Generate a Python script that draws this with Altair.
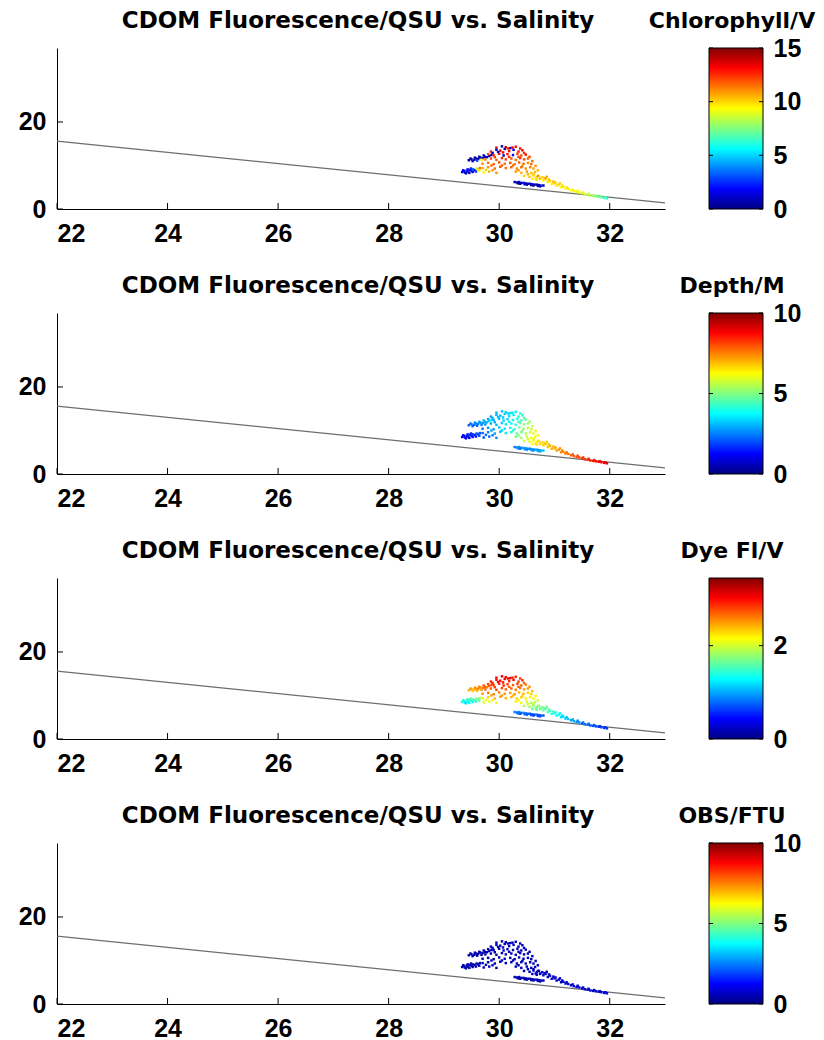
import altair as alt
import pandas as pd

# ---------------- data ----------------
salinity = [
    29.45, 29.50, 29.55, 29.58, 29.62, 29.66, 29.70, 29.74, 29.78, 29.82, 29.52, 29.60, 29.68, 29.86,
    29.33, 29.36, 29.38, 29.41, 29.44, 29.47, 29.50, 29.53, 29.56, 29.59, 29.62, 29.65, 29.40, 29.46, 29.52, 29.58,
    29.95, 30.05, 30.12, 30.20, 30.30,
    29.85, 29.95, 30.02, 30.10, 30.18, 30.26, 30.35, 30.42,
    29.80, 29.90, 30.00, 30.08, 30.15, 30.25, 30.33, 30.40, 30.48,
    29.75, 29.85, 29.95, 30.05, 30.12, 30.22, 30.30, 30.38, 30.45, 30.52,
    29.70, 29.80, 29.90, 30.00, 30.10, 30.20, 30.28, 30.36, 30.44, 30.52, 30.58,
    29.70, 29.80, 29.92, 30.02, 30.12, 30.22, 30.32, 30.40, 30.48, 30.56, 30.62,
    29.72, 29.82, 29.95, 30.30, 30.40, 30.50, 30.58, 30.65,
    30.45, 30.55, 30.62, 30.68, 30.72,
    30.60, 30.68, 30.74,
    30.28, 30.32, 30.36, 30.40, 30.44, 30.48, 30.52, 30.56, 30.60, 30.64, 30.68, 30.72, 30.76, 30.80, 30.38, 30.50, 30.62, 30.70,
    30.70, 30.74, 30.78, 30.80, 30.84, 30.88, 30.92, 30.95, 31.00, 31.04, 31.08, 31.12, 31.16, 31.20, 31.25, 31.30,
    31.35, 31.40, 31.45, 31.50, 31.55, 31.60, 31.65, 31.70, 31.75, 31.80, 31.85, 31.90, 31.95, 30.86, 30.98, 31.10,
    30.07, 30.16, 30.24, 30.38, 30.45, 30.55, 30.60, 30.66, 30.70, 29.88, 29.98, 29.92,
    30.18, 30.35, 30.05, 30.25, 30.42, 29.86, 29.76, 29.88, 30.35, 30.52, 30.62, 30.66,
    30.82, 30.90, 31.02, 31.14, 31.22, 31.33, 31.42, 31.52, 31.62, 31.72, 31.82, 31.92,
    29.35, 29.43, 29.49, 29.64, 29.48, 29.56, 29.64, 29.72, 30.34, 30.46, 30.58, 30.74,
]
cdom = [
    11.2, 11.4, 11.3, 11.6, 11.5, 11.8, 11.7, 12.0, 11.9, 12.2, 11.0, 11.1, 11.3, 12.4,
    8.5, 8.7, 8.4, 8.8, 8.6, 9.0, 8.8, 9.1, 8.9, 9.3, 9.1, 9.4, 8.2, 8.3, 8.5, 8.6,
    14.1, 14.4, 14.2, 14.0, 14.3,
    13.2, 13.6, 13.4, 13.8, 13.3, 13.6, 13.2, 13.5,
    12.6, 12.4, 12.7, 12.3, 12.6, 12.4, 12.7, 12.3, 12.5,
    11.4, 11.6, 11.3, 11.7, 11.4, 11.6, 11.3, 11.7, 11.4, 11.6,
    10.4, 10.6, 10.3, 10.7, 10.4, 10.6, 10.3, 10.7, 10.4, 10.6, 10.3,
    9.4, 9.6, 9.3, 9.7, 9.4, 9.6, 9.3, 9.6, 9.3, 9.6, 9.3,
    8.4, 8.6, 8.3, 8.6, 8.3, 8.6, 8.3, 8.5,
    7.6, 7.4, 7.7, 7.3, 7.6,
    6.9, 6.7, 6.9,
    6.2, 6.1, 6.2, 6.0, 6.0, 5.9, 5.8, 5.8, 5.7, 5.6, 5.6, 5.5, 5.4, 5.4, 5.8, 5.6, 5.4, 5.3,
    7.6, 7.0, 7.3, 6.6, 6.9, 6.2, 6.5, 5.8, 5.9, 5.4, 5.6, 5.0, 5.1, 4.7, 4.6, 4.3,
    4.1, 3.9, 3.8, 3.6, 3.4, 3.3, 3.1, 3.0, 2.9, 2.8, 2.7, 2.55, 2.45, 7.4, 6.3, 5.9,
    13.0, 13.9, 14.1, 13.9, 12.9, 12.0, 11.0, 9.9, 8.9, 12.9, 13.1, 11.9,
    12.0, 12.0, 10.0, 10.0, 9.9, 10.0, 9.0, 8.9, 8.9, 8.0, 8.0, 7.0,
    7.1, 6.8, 6.1, 5.4, 5.0, 4.5, 4.2, 3.8, 3.5, 3.2, 2.95, 2.7,
    8.9, 9.1, 9.3, 8.8, 11.6, 11.8, 12.0, 12.3, 5.9, 5.7, 5.5, 5.2,
]
chlorophyll = [
    0.5, 0.4, 0.6, 0.5, 0.7, 0.4, 0.8, 0.5, 1.5, 0.6, 1.0, 3.0, 9.5, 0.5,
    1.5, 2.0, 1.2, 2.5, 1.0, 2.2, 1.8, 3.5, 1.4, 8.5, 10.0, 11.5, 0.8, 1.1, 1.6, 2.8,
    13.5, 1.0, 13.8, 0.8, 13.0,
    12.5, 1.2, 13.5, 0.6, 13.0, 1.5, 12.8, 13.5,
    12.0, 12.5, 13.0, 0.8, 12.8, 2.0, 12.3, 12.0, 13.0,
    11.5, 12.0, 11.8, 12.5, 12.2, 12.0, 11.5, 12.5, 12.0, 11.8,
    11.0, 11.5, 11.8, 12.0, 11.5, 12.0, 11.2, 11.8, 11.5, 11.0, 11.5,
    10.5, 11.0, 11.5, 12.0, 11.5, 11.8, 11.2, 11.5, 11.0, 11.2, 10.8,
    9.0, 10.5, 11.0, 11.0, 10.5, 10.8, 10.2, 10.5,
    10.0, 10.2, 9.8, 10.0, 9.5,
    9.5, 9.8, 9.2,
    1.0, 0.6, 1.5, 0.5, 2.0, 0.7, 1.2, 0.5, 1.8, 0.6, 1.0, 0.5, 2.5, 0.8, 0.4, 0.6, 0.5, 0.7,
    11.0, 10.5, 10.0, 9.5, 10.2, 9.8, 10.0, 9.5, 10.2, 9.8, 10.0, 9.5, 9.8, 9.5, 9.8, 9.2,
    9.5, 9.0, 9.2, 8.8, 9.0, 8.5, 8.2, 8.0, 7.5, 7.2, 6.8, 6.5, 6.0, 10.8, 10.5, 10.0,
    13.2, 12.8, 13.5, 13.0, 12.5, 12.0, 11.5, 11.0, 10.5, 1.0, 0.7, 12.2,
    12.5, 12.0, 11.8, 11.5, 11.2, 11.5, 10.0, 11.0, 11.0, 10.5, 10.2, 9.8,
    10.5, 10.2, 10.0, 9.8, 9.6, 9.4, 9.2, 8.9, 8.6, 8.0, 7.3, 6.6,
    1.8, 2.0, 2.5, 9.5, 0.5, 0.6, 0.5, 0.8, 0.6, 1.0, 0.7, 0.9,
]
depth = [
    2.2, 2.4, 2.3, 2.6, 2.5, 2.8, 2.7, 3.0, 3.1, 3.3, 2.1, 2.2, 2.5, 3.4,
    1.3, 1.4, 1.2, 1.5, 1.3, 1.6, 1.5, 1.7, 1.6, 1.9, 1.8, 2.0, 1.1, 1.2, 1.4, 1.5,
    3.0, 3.2, 3.3, 3.5, 3.6,
    2.8, 3.0, 3.1, 3.3, 3.4, 3.6, 3.9, 4.2,
    2.8, 2.9, 3.1, 3.3, 3.4, 3.7, 4.0, 4.4, 4.7,
    2.6, 2.9, 3.0, 3.2, 3.5, 3.8, 4.2, 4.6, 5.0, 5.2,
    2.4, 2.7, 2.9, 3.2, 3.5, 3.9, 4.3, 4.8, 5.2, 5.5, 5.8,
    2.2, 2.5, 2.9, 3.2, 3.6, 4.0, 4.6, 5.0, 5.4, 5.8, 6.0,
    2.0, 2.3, 2.6, 4.8, 5.3, 5.7, 6.0, 6.2,
    5.8, 6.0, 6.2, 6.4, 6.5,
    6.3, 6.5, 6.6,
    2.6, 2.5, 2.7, 2.5, 2.8, 2.6, 2.7, 2.5, 2.8, 2.6, 2.9, 2.7, 3.0, 3.2, 2.4, 2.5, 2.6, 2.8,
    6.5, 6.6, 6.6, 6.7, 6.8, 6.9, 7.0, 7.0, 7.1, 7.2, 7.3, 7.4, 7.5, 7.6, 7.7, 7.8,
    7.9, 8.0, 8.1, 8.2, 8.3, 8.4, 8.5, 8.6, 8.7, 8.8, 8.9, 9.0, 9.1, 6.7, 7.0, 7.2,
    3.2, 3.4, 3.5, 4.1, 4.6, 5.3, 5.7, 6.1, 6.3, 3.0, 3.1, 3.0,
    3.6, 4.3, 3.3, 4.1, 5.0, 2.8, 2.3, 2.5, 5.0, 5.8, 6.1, 6.4,
    6.7, 6.9, 7.1, 7.4, 7.6, 7.9, 8.0, 8.2, 8.4, 8.6, 8.8, 9.0,
    1.4, 1.5, 1.6, 1.9, 2.4, 2.6, 2.8, 3.0, 2.6, 2.7, 2.7, 2.9,
]
dye = [
    2.4, 2.5, 2.4, 2.5, 2.6, 2.5, 2.6, 2.7, 2.6, 2.7, 2.3, 2.4, 2.5, 2.8,
    1.3, 1.4, 1.2, 1.4, 1.3, 1.5, 1.4, 1.6, 1.5, 1.7, 1.6, 1.8, 1.2, 1.3, 1.3, 1.4,
    3.0, 3.1, 3.0, 3.1, 2.9,
    2.9, 3.0, 3.0, 3.1, 2.9, 3.0, 2.8, 2.9,
    2.8, 2.8, 2.9, 2.9, 2.8, 2.7, 2.8, 2.7, 2.6,
    2.7, 2.7, 2.8, 2.8, 2.7, 2.7, 2.6, 2.6, 2.5, 2.5,
    2.5, 2.6, 2.6, 2.6, 2.5, 2.5, 2.5, 2.4, 2.4, 2.3, 2.3,
    2.2, 2.3, 2.4, 2.5, 2.4, 2.4, 2.3, 2.3, 2.2, 2.2, 2.1,
    2.0, 2.1, 2.1, 2.2, 2.1, 2.0, 1.9, 1.9,
    1.9, 1.8, 1.8, 1.7, 1.7,
    1.6, 1.6, 1.5,
    0.9, 0.8, 0.9, 0.8, 0.9, 0.8, 0.8, 0.7, 0.8, 0.7, 0.8, 0.7, 0.8, 0.7, 0.7, 0.7, 0.6, 0.7,
    1.8, 1.7, 1.7, 1.6, 1.6, 1.5, 1.5, 1.4, 1.4, 1.3, 1.3, 1.2, 1.2, 1.1, 1.1, 1.0,
    1.0, 0.9, 0.9, 0.8, 0.8, 0.8, 0.7, 0.7, 0.7, 0.6, 0.6, 0.6, 0.6, 1.7, 1.5, 1.3,
    3.0, 3.0, 2.9, 2.8, 2.7, 2.5, 2.4, 2.2, 2.0, 2.9, 3.0, 2.8,
    2.7, 2.7, 2.5, 2.4, 2.3, 2.5, 2.1, 2.2, 2.2, 2.0, 1.9, 1.7,
    1.6, 1.6, 1.4, 1.2, 1.1, 1.0, 0.9, 0.8, 0.8, 0.7, 0.6, 0.6,
    1.4, 1.5, 1.6, 1.7, 2.5, 2.5, 2.6, 2.7, 0.8, 0.8, 0.7, 0.7,
]
obs = [
    0.4, 0.5, 0.4, 0.5, 0.4, 0.6, 0.5, 0.4, 0.5, 0.6, 0.4, 0.5, 0.4, 0.5,
    0.4, 0.5, 0.4, 0.5, 0.4, 0.6, 0.5, 0.4, 0.5, 0.5, 0.4, 0.6, 0.4, 0.4, 0.5, 0.5,
    0.5, 0.6, 0.5, 0.6, 0.5,
    0.5, 0.6, 0.5, 0.4, 0.5, 0.6, 0.5, 0.5,
    0.4, 0.5, 0.5, 0.6, 0.5, 0.6, 0.5, 0.5, 0.6,
    0.5, 0.5, 0.4, 0.5, 0.6, 0.5, 0.5, 0.6, 0.5, 0.6,
    0.5, 0.5, 0.4, 0.5, 0.6, 0.5, 0.5, 0.6, 0.5, 0.6, 0.5,
    0.5, 0.4, 0.5, 0.5, 0.6, 0.5, 0.5, 0.6, 0.5, 0.6, 0.5,
    0.5, 0.4, 0.5, 0.5, 0.6, 0.5, 0.6, 0.5,
    0.5, 0.5, 0.6, 0.5, 0.6,
    0.5, 0.6, 0.5,
    0.5, 0.4, 0.5, 0.6, 0.5, 0.4, 0.5, 0.6, 0.5, 0.4, 0.5, 0.5, 0.6, 0.5, 0.4, 0.5, 0.5, 0.6,
    0.6, 0.7, 0.6, 0.7, 0.6, 0.7, 0.8, 0.7, 0.8, 0.7, 0.8, 0.7, 0.8, 0.7, 0.8, 0.7,
    0.8, 0.7, 0.8, 0.7, 0.8, 0.7, 0.8, 0.7, 0.8, 0.7, 0.8, 0.7, 0.8, 0.6, 0.7, 0.8,
    0.5, 0.6, 0.5, 0.5, 0.6, 0.5, 0.6, 0.5, 0.6, 0.5, 0.5, 0.5,
    0.5, 0.6, 0.5, 0.5, 0.6, 0.5, 0.5, 0.5, 0.5, 0.6, 0.5, 0.6,
    0.6, 0.7, 0.7, 0.8, 0.7, 0.8, 0.7, 0.8, 0.7, 0.8, 0.7, 0.8,
    0.5, 0.5, 0.4, 0.5, 0.5, 0.4, 0.5, 0.5, 0.5, 0.5, 0.5, 0.6,
]

# straight reference line (salinity, CDOM)
line_salinity = [22, 33]
line_cdom = [15.6, 1.4]

x_ticks = [22, 24, 26, 28, 30, 32]
y_ticks = [0, 20]

panel_title = "CDOM Fluorescence/QSU vs. Salinity"
bar_titles = ["Chlorophyll/V", "Depth/M", "Dye Fl/V", "OBS/FTU"]
bar_fields = ["chlorophyll", "depth", "dye", "obs"]
bar_max = [15, 10, 3.45, 10]
bar_ticks = [[0, 5, 10, 15], [0, 5, 10], [0, 2], [0, 5, 10]]

JET = ["#000080", "#0000FF", "#0080FF", "#00FFFF", "#80FF80",
       "#FFFF00", "#FF8000", "#FF0000", "#800000"]

points = pd.DataFrame({
    "salinity": salinity, "cdom": cdom, "chlorophyll": chlorophyll,
    "depth": depth, "dye": dye, "obs": obs,
})
line_df = pd.DataFrame({"salinity": line_salinity, "cdom": line_cdom})
xt_df = pd.DataFrame({"salinity": x_ticks})
yt_df = pd.DataFrame({"cdom": y_ticks})

W, H = 608, 161
CB_X0, CB_W = 652, 54          # colorbar left edge (from plot origin) and width
LABEL_FONT = "Liberation Sans"
TITLE_FONT = "DejaVu Sans"

xscale = alt.Scale(domain=[22, 33], nice=False, zero=False)
yscale = alt.Scale(domain=[0, 37], nice=False, zero=False)
xaxis = alt.Axis(values=x_ticks, ticks=False, grid=False, title=None,
                 labelPadding=12, labelFont=LABEL_FONT, labelFontSize=25,
                 labelFontWeight="bold", labelColor="black",
                 domainColor="black", domainWidth=1)
yaxis = alt.Axis(values=y_ticks, ticks=False, grid=False, title=None,
                 labelPadding=11, labelFont=LABEL_FONT, labelFontSize=25,
                 labelFontWeight="bold", labelColor="black",
                 domainColor="black", domainWidth=1)

jet_gradient = alt.Gradient(
    gradient="linear", x1=0, x2=0, y1=1, y2=0,
    stops=[alt.GradientStop(color=c, offset=k / 8) for k, c in enumerate(JET)],
)


def panel(i):
    field = bar_fields[i]
    vmax = bar_max[i]
    stops = [vmax * k / 8 for k in range(9)]
    X = alt.X("salinity:Q", scale=xscale, axis=xaxis)
    Y = alt.Y("cdom:Q", scale=yscale, axis=yaxis)

    line = alt.Chart(line_df).mark_line(color="#6e6e6e", strokeWidth=1.2).encode(x=X, y=Y)
    pts = alt.Chart(points).mark_square(size=6, opacity=1).encode(
        x=X, y=Y,
        color=alt.Color(f"{field}:Q",
                        scale=alt.Scale(domain=stops, range=JET, interpolate="rgb"),
                        legend=None),
    )
    xt = alt.Chart(xt_df).mark_rule(color="black").encode(
        x=X, y=alt.value(H - 6), y2=alt.value(H))
    yt = alt.Chart(yt_df).mark_rule(color="black").encode(
        y=Y, x=alt.value(0), x2=alt.value(6))
    ttl = alt.Chart(pd.DataFrame({"t": [panel_title]})).mark_text(
        font=TITLE_FONT, fontSize=23, fontWeight="bold", color="black",
        align="center", baseline="alphabetic").encode(
        text="t:N", x=alt.value(301), y=alt.value(-20))
    plot = alt.layer(line, pts, xt, yt, ttl)

    # colorbar: gradient box + its own value axis on the right
    cb_df = pd.DataFrame({"v": bar_ticks[i]})
    cscale = alt.Scale(domain=[0, vmax], nice=False, zero=False)
    cb_axis = alt.Axis(orient="right", offset=CB_X0 + CB_W - W,
                       values=bar_ticks[i], format="d", ticks=False, domain=False,
                       grid=False, title=None, labelPadding=10,
                       labelFont=LABEL_FONT, labelFontSize=25,
                       labelFontWeight="bold", labelColor="black")
    CY = alt.Y("v:Q", scale=cscale, axis=cb_axis)
    cb_rect = alt.Chart(pd.DataFrame({"t": [bar_titles[i]]})).mark_rect(
        fill=jet_gradient, stroke="black", strokeWidth=1).encode(
        x=alt.value(CB_X0), x2=alt.value(CB_X0 + CB_W),
        y=alt.value(0), y2=alt.value(H))
    cb_tick_l = alt.Chart(cb_df).mark_rule(color="black").encode(
        y=CY, x=alt.value(CB_X0), x2=alt.value(CB_X0 + 4))
    cb_tick_r = alt.Chart(cb_df).mark_rule(color="black").encode(
        y=CY, x=alt.value(CB_X0 + CB_W - 4), x2=alt.value(CB_X0 + CB_W))
    cb_title = alt.Chart(pd.DataFrame({"t": [bar_titles[i]]})).mark_text(
        font=TITLE_FONT, fontSize=22, fontWeight="bold", color="black",
        align="center", baseline="alphabetic").encode(
        text="t:N", x=alt.value(CB_X0 + CB_W / 2 - 4), y=alt.value(-20))
    cbar = alt.layer(cb_rect, cb_tick_l, cb_tick_r, cb_title)

    return alt.layer(plot, cbar).resolve_scale(y="independent").properties(
        width=W, height=H)


chart = alt.vconcat(*[panel(i) for i in range(4)], spacing=29).resolve_scale(
    color="independent"
).properties(
    padding={"left": 10, "top": 2, "right": 0, "bottom": 8},
    background="white",
).configure_view(strokeWidth=0, stroke="transparent")

chart.save("out.html", embed_options={"renderer": "svg", "actions": False})
